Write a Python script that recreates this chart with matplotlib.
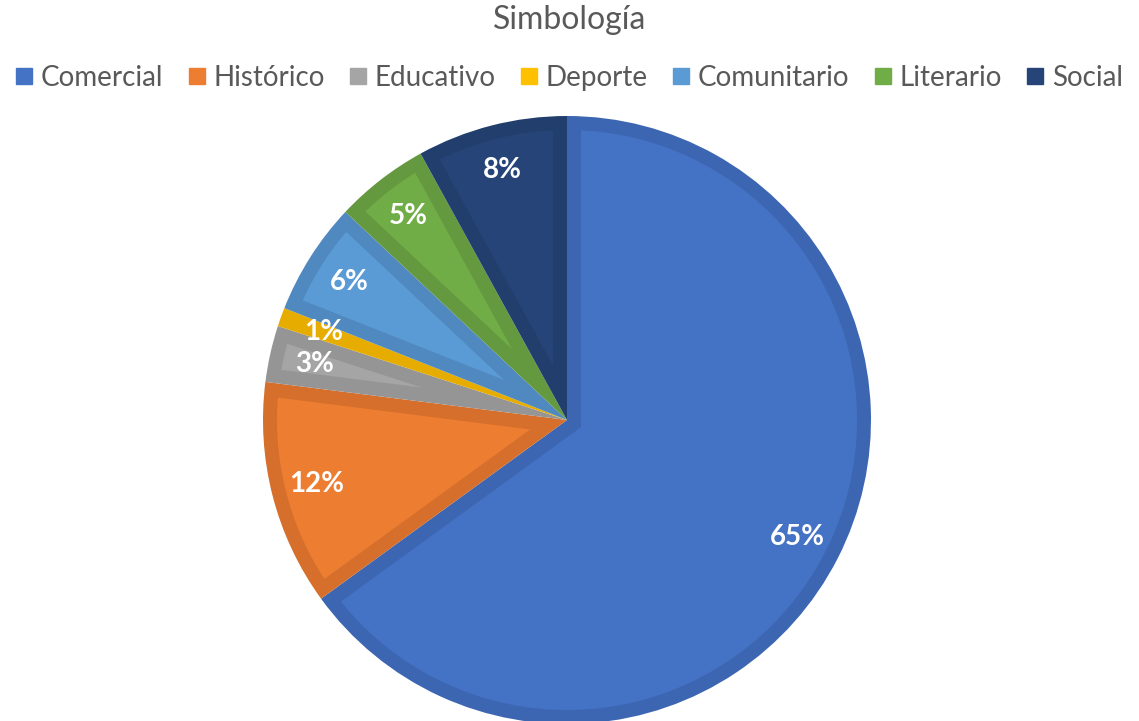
import numpy as np
import matplotlib.pyplot as plt
from matplotlib.lines import Line2D
from matplotlib.patches import Polygon

categorias = ["Comercial", "Histórico", "Educativo", "Deporte", "Comunitario", "Literario", "Social"]
porcentajes = [65, 12, 3, 1, 6, 5, 8]
colores = ["#4472C4", "#ED7D31", "#A5A5A5", "#FFC000", "#5B9BD5", "#70AD47", "#264478"]
bordes = ["#3D66B2", "#D56F2B", "#959595", "#E6AD00", "#5089C0", "#65993F", "#223E6C"]

plt.rcParams["font.family"] = ["Lato", "DejaVu Sans"]

fig = plt.figure(figsize=(11.39, 7.21), dpi=100)
ax = fig.add_axes([263 / 1139, -3 / 721, 608 / 1139, 608 / 721])

# capa exterior con el color del borde
wedges, texts, autotexts = ax.pie(
    porcentajes, colors=bordes, startangle=90, counterclock=False,
    autopct="%d%%", pctdistance=0.85, radius=1,
    wedgeprops=dict(linewidth=0),
    textprops=dict(color="white", fontsize=20, fontweight="bold"))

# relleno interior (borde interno de ~14 px, estilo Excel)
d = 14 / 304
for w, c in zip(wedges, colores):
    a1, a2 = w.theta1, w.theta2
    half = np.radians(a2 - a1) / 2
    apex = d / np.sin(half)
    delta = np.degrees(np.arcsin(d / (1 - d)))
    if apex >= 1 - d or 2 * delta >= a2 - a1:
        continue
    mid = np.radians((a1 + a2) / 2)
    ang = np.radians(np.linspace(a1 + delta, a2 - delta, 200))
    xs = np.concatenate([[apex * np.cos(mid)], (1 - d) * np.cos(ang)])
    ys = np.concatenate([[apex * np.sin(mid)], (1 - d) * np.sin(ang)])
    ax.add_patch(Polygon(np.column_stack([xs, ys]), closed=True,
                         facecolor=c, edgecolor="none", zorder=1.5))

for t in autotexts:
    t.set_zorder(5)

ax.set_xlim(-1, 1)
ax.set_ylim(-1, 1)
ax.axis("off")

fig.text(0.5, 1 - 20 / 721, "Simbología", ha="center", va="center",
         fontsize=23, color="#595959")

handles = [Line2D([], [], marker="s", linestyle="", markersize=12,
                  markerfacecolor=c, markeredgecolor=c) for c in colores]
fig.legend(handles, categorias, loc="center", bbox_to_anchor=(0.5, 1 - 78 / 721),
           ncol=7, frameon=False, fontsize=20, handletextpad=0.3,
           columnspacing=0.9, handlelength=0.6, labelcolor="#595959")

fig.savefig("out.png", dpi=100)
